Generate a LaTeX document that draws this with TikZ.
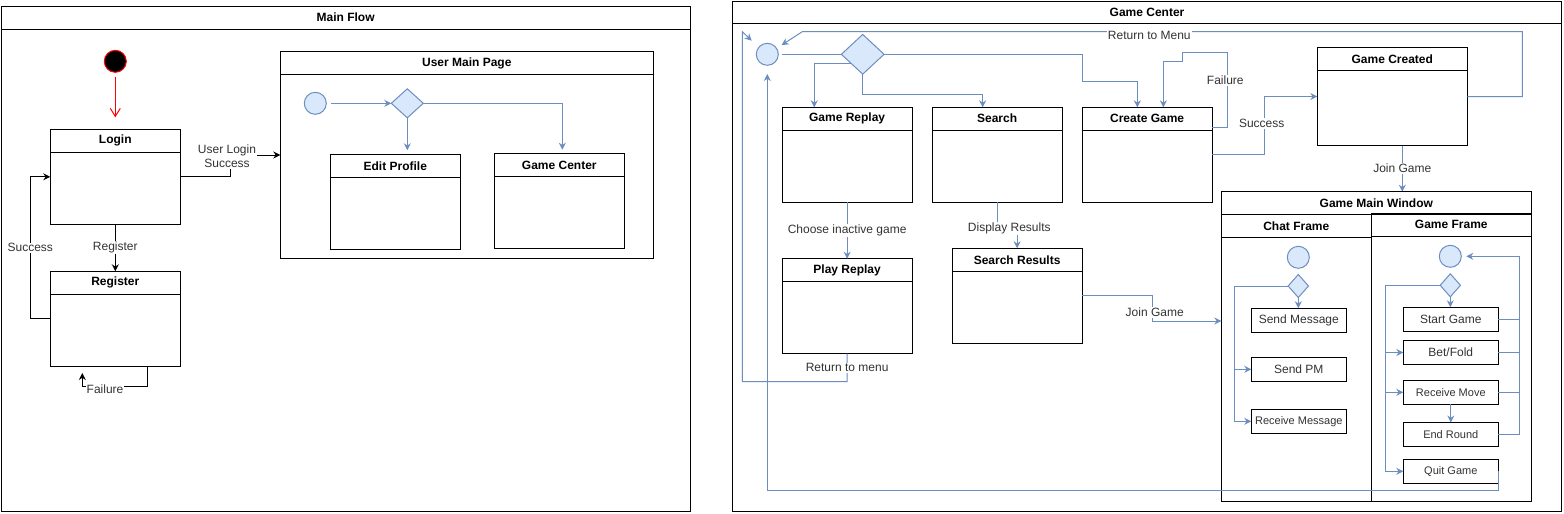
\documentclass[tikz,border=0pt]{standalone}
\usepackage{fontspec}
\setmainfont{Liberation Sans}
\usetikzlibrary{arrows.meta,shapes.geometric,calc}
\definecolor{bstroke}{HTML}{6C8EBF}
\definecolor{bfill}{HTML}{DAE8FC}
\definecolor{txt}{HTML}{333333}
\tikzset{
 frame/.style={draw=black, line width=1pt, inner sep=0pt, outer sep=0pt},
 ttl/.style={font=\fontsize{12}{14}\selectfont\bfseries, text=black, inner sep=0pt},
 lbl/.style={font=\fontsize{12}{14}\selectfont, text=txt, fill=white, inner sep=1pt, align=center},
 smallbox/.style={draw=black, line width=1pt, minimum width=95pt, minimum height=24pt, inner sep=0pt, outer sep=0pt, text=txt, font=\fontsize{12}{14}\selectfont},
 smallfont/.style={font=\fontsize{11}{13}\selectfont},
 initst/.style={circle, draw=bstroke, fill=bfill, line width=1pt, minimum size=22pt, inner sep=0pt, outer sep=0pt},
 dec/.style={diamond, draw=bstroke, fill=bfill, line width=1pt, inner sep=0pt, outer sep=0pt},
 bline/.style={draw=bstroke, line width=1pt},
 barr/.style={bline, -{Stealth[length=7pt,width=7pt]}},
 karr/.style={draw=black, line width=1pt, -{Stealth[length=7pt,width=7pt]}},
}
\newcommand{\lanebox}[7]{%
  \node[frame, minimum width=#4pt, minimum height=#5pt, anchor=north west] (#1) at (#2,#3) {};
  \draw[frame] ([yshift=-#6pt]#1.north west) -- ([yshift=-#6pt]#1.north east);
  \node[ttl] (#1-t) at ([yshift=-#6pt/2]#1.north) {#7};
}
\begin{document}
\begin{tikzpicture}[x=1pt,y=-1pt]
\useasboundingbox (0,0) rectangle (1564,514);
\fill[white] (0,0) rectangle (1564,514);

% ================= Main Flow =================
\lanebox{mainflow}{1}{6}{689.3}{505.7}{23}{Main Flow}
\node[circle, draw=red, fill=black, line width=1pt, minimum size=22pt, inner sep=0pt] (start) at (115.3,61.3) {};
\lanebox{login}{50.3}{129.3}{130}{95}{23}{Login}
\lanebox{register}{50.3}{271.3}{130}{95}{23}{Register}
\draw[draw=red, line width=1pt, shorten <=4pt, shorten >=12pt, -{Straight Barb[length=8pt,width=10pt]}] (start) -- (login);
\draw[karr] (login) -- node[lbl]{Register} (register);
\draw[karr] (register.west) -- ++(-20,0) -- node[lbl]{Success} ($(login.west)+(-20,0)$) -- (login.west);
\draw[karr] ([xshift=32pt]register.south) -- ++(0,19.7) -- node[lbl,pos=0.65,yshift=-3pt]{Failure} ++(-65,0) -- ++(0,-13);

\lanebox{ump}{280.3}{51.7}{373}{206.6}{22.6}{User Main Page}
\draw[karr] (login.east) -- (230.7,176.8) -- (230.7,155) -- (ump.west);
\node[lbl] (ulsl) at (227,156.7) {User Login\\Success};
\node[initst] (umpinit) at (315.3,103.3) {};
\node[dec, minimum width=32pt, minimum height=29pt] (umpdec) at (407.3,103.3) {};
\lanebox{edit}{330.3}{154.3}{130}{95}{23}{Edit Profile}
\lanebox{gcbox}{494.3}{153.7}{130}{94.6}{22.6}{Game Center}
\draw[barr, shorten <=5pt] (umpinit) -- (umpdec);
\draw[barr, shorten >=4pt] (umpdec.south) -- (umpdec.south |- edit.north);
\draw[barr] (umpdec.east) -| ([xshift=3pt,yshift=4pt]gcbox.north);

% ================= Game Center =================
\lanebox{gc}{732.3}{1}{829.4}{510.7}{22.3}{Game Center}
\node[initst] (gcinit) at (767.3,54.3) {};
\node[dec, minimum width=42.7pt, minimum height=39.7pt] (gcdec) at (862.7,54.3) {};
\lanebox{replay}{782}{107.3}{130.3}{95}{22.7}{Game Replay}
\lanebox{search}{932}{107.3}{130.3}{95}{22.7}{Search}
\lanebox{create}{1082}{107.3}{130.3}{95}{22.7}{Create Game}
\lanebox{created}{1317.3}{47.3}{150}{98.4}{23.4}{Game Created}
\lanebox{play}{782}{258.7}{130.3}{95}{22.6}{Play Replay}
\lanebox{sres}{952}{248.3}{130.3}{95}{23}{Search Results}

\draw[bline, shorten <=4pt] (gcinit) -- (gcdec);
\draw[barr] ($(gcdec.west)!0.45!(gcdec.south)$) -| ([xshift=-32.9pt]replay.north);
\draw[barr] (gcdec.south) -- ++(0,20) -| ([xshift=-14.5pt]search.north);
\draw[barr] (gcdec.east) -- (1082.3,54.3) -- (1082.3,81) -| ([xshift=-9.8pt]create.north);
\draw[barr] ([yshift=-20.4pt]create.north east) -- (1227.3,127.7) -- (1227.3,52.7) -- (1182.3,52.7) -- (1182.3,61) -| ([xshift=16.2pt]create.north);
\node[lbl] (faill) at (1225.3,80.7) {Failure};
\draw[barr] (create.east) -- (1264.3,154.8) -- (1264.3,96.5) -- (created.west);
\node[lbl] (succl) at (1261.7,123.7) {Success};
\draw[barr, shorten >=6pt] (created.east) -- (1522.3,96.5) -- (1522.3,31.7) -- (802.3,31.7) -- (gcinit);
\node[lbl] (rtml) at (1149.3,35.5) {Return to Menu};
\draw[barr] ([xshift=10pt]created.south) -- node[lbl]{Join Game} ++(0,46);

\draw[barr] (replay.south) -- node[lbl]{Choose inactive game} (play.north);
\draw[barr] (search.south) -- ++(0,26.4) -| (sres.north);
\node[lbl] (drl) at (1009.3,228.2) {Display Results};
\coordinate (rtmend) at (751.7,40.7);
\draw[barr] (play.south) -- node[lbl]{Return to menu} ++(0,28) -- (742.3,381.7) -- (742.3,31.7) -- (rtmend);

% ---- Game Main Window ----
\lanebox{gmw}{1221.3}{191.7}{310}{309.3}{22.6}{Game Main Window}
\lanebox{chat}{1221.3}{214.3}{150}{286.7}{23}{Chat Frame}
\lanebox{gframe}{1371.3}{213.3}{160}{287.7}{23}{Game Frame}
\draw[barr] (sres.east) -| (1152.7,321) -- (gmw.west |- 0,321);
\node[lbl] (jgl) at (1154.7,312.7) {Join Game};

% chat frame
\node[initst] (chatinit) at (1298.3,257.3) {};
\node[dec, minimum width=20.3pt, minimum height=23pt] (chatdec) at (1298.3,286) {};
\node[smallbox] (sendmsg) at (1298.8,320.2) {Send Message};
\node[smallbox] (sendpm) at (1298.8,369.3) {Send PM};
\node[smallbox, smallfont] (recvmsg) at (1298.8,421.3) {Receive Message};
\draw[barr] (chatdec.south) -- (chatdec.south |- sendmsg.north);
\draw[barr] (chatdec.west) -| ([xshift=-17.3pt]recvmsg.west) -- (recvmsg.west);
\draw[barr] ([xshift=-17.3pt]sendpm.west) -- (sendpm.west);

% game frame
\node[initst] (ginit) at (1450.3,256.3) {};
\node[dec, minimum width=20.3pt, minimum height=23pt] (gdec) at (1450.3,285.3) {};
\node[smallbox] (startg) at (1450.8,319.3) {Start Game};
\node[smallbox] (betf) at (1450.8,352.5) {Bet/Fold};
\node[smallbox, smallfont] (recvmove) at (1450.8,392.3) {Receive Move};
\node[smallbox, smallfont] (endr) at (1450.8,434.5) {End Round};
\node[smallbox, smallfont] (quitg) at (1450.8,471.3) {Quit Game};
\draw[barr] (gdec.south) -- (gdec.south |- startg.north);
\draw[barr] (gdec.west) -| ([xshift=-17.6pt]quitg.west) -- (quitg.west);
\draw[barr] ([xshift=-17.6pt]betf.west) -- (betf.west);
\draw[barr] ([xshift=-17.6pt]recvmove.west) -- (recvmove.west);
\draw[barr] (recvmove) -- (endr);
\draw[bline] (startg.east) -- ++(20.7,0);
\draw[bline] (betf.east) -- ++(20.7,0);
\draw[bline] (recvmove.east) -- ++(20.7,0);
\draw[barr, shorten >=5pt] (endr.east) -- ++(20.7,0) |- (ginit.east);
\draw[barr, shorten >=8.7pt] (quitg.east) -- ++(0,19.4) -| (gcinit.south);
\end{tikzpicture}
\end{document}
